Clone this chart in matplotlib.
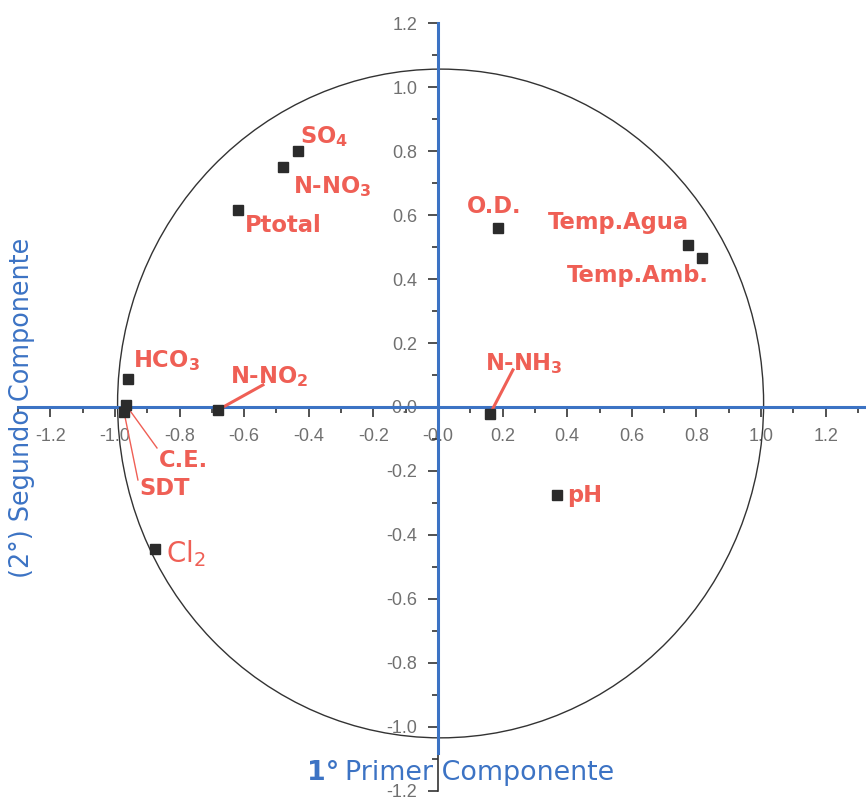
import numpy as np
import matplotlib.pyplot as plt
from matplotlib.patches import Ellipse
from matplotlib.ticker import MultipleLocator, FormatStrFormatter

plt.rcParams['axes.unicode_minus'] = False
plt.rcParams['mathtext.fontset'] = 'custom'
plt.rcParams['mathtext.rm'] = 'DejaVu Sans'
plt.rcParams['mathtext.bf'] = 'DejaVu Sans:bold'

# cargas de cada variable en los dos primeros componentes
variables = ['SO$_\\mathbf{4}$', 'N-NO$_\\mathbf{3}$', 'Ptotal', 'HCO$_\\mathbf{3}$',
             'C.E.', 'SDT', 'N-NO$_\\mathbf{2}$', 'Cl$_2$', 'O.D.',
             'Temp.Agua', 'Temp.Amb.', 'N-NH$_\\mathbf{3}$', 'pH']
comp1 = [-0.433, -0.48, -0.619, -0.96, -0.966, -0.972, -0.681, -0.876,
         0.186, 0.774, 0.817, 0.161, 0.368]
comp2 = [0.80, 0.75, 0.616, 0.0875, 0.006, -0.016, -0.009, -0.444,
         0.559, 0.506, 0.466, -0.022, -0.275]

# donde va cada etiqueta (esquina izquierda, linea base)
lab_x = [-0.427, -0.449, -0.598, -0.944, -0.864, -0.923, -0.644, -0.842,
         0.09, 0.34, 0.40, 0.146, 0.40]
lab_y = [0.825, 0.669, 0.547, 0.125, -0.1875, -0.275, 0.075, -0.484,
         0.606, 0.556, 0.39, 0.116, -0.297]

# lineas guia: indice de la variable -> punto final
guias = {6: (-0.542, 0.069), 11: (0.232, 0.116),
         4: (-0.87, -0.128), 5: (-0.929, -0.228)}

rojo = '#ef5f55'
azul = '#3c73c4'

fig = plt.figure(figsize=(8.66, 7.98), dpi=100)
ax = fig.add_axes([0, 0, 1, 1])
ax.set_xlim(-1.356, 1.325)
ax.set_ylim(-1.222, 1.272)

ax.spines['top'].set_visible(False)
ax.spines['right'].set_visible(False)
ax.spines['left'].set_position(('data', 0))
ax.spines['bottom'].set_position(('data', 0))
ax.spines['left'].set_bounds(-1.2, 1.2)
ax.spines['bottom'].set_bounds(-1.2, 1.2)
for s in ['left', 'bottom']:
    ax.spines[s].set_color('#333333')
    ax.spines[s].set_linewidth(1.2)

ax.set_xticks(np.arange(-1.2, 1.21, 0.2))
ax.set_yticks(np.arange(-1.2, 1.21, 0.2))
ax.xaxis.set_minor_locator(MultipleLocator(0.1))
ax.yaxis.set_minor_locator(MultipleLocator(0.1))
ax.xaxis.set_major_formatter(FormatStrFormatter('%.1f'))
ax.yaxis.set_major_formatter(FormatStrFormatter('%.1f'))
ax.tick_params(which='major', direction='out', length=7, width=1.2,
               color='#333333', labelsize=13, labelcolor='#707070', pad=8)
ax.tick_params(which='minor', direction='out', length=4, width=1.2, color='#333333')
for t in ax.get_xticklabels() + ax.get_yticklabels():
    t.set_family('Liberation Sans')

# ejes azules
ax.plot([-1.3, 1.33], [0, 0], color=azul, lw=2.2, zorder=3, clip_on=False)
ax.plot([0, 0], [-1.08, 1.2], color=azul, lw=2.2, zorder=3)

# circulo de correlacion
ax.add_patch(Ellipse((0.008, 0.011), 2.0, 2.09, fill=False,
                     edgecolor='#333333', lw=1.0, zorder=2))

for i, (xg, yg) in guias.items():
    grosor = 2.2 if i in (6, 11) else 1.0
    ax.plot([comp1[i], xg], [comp2[i], yg], color=rojo, lw=grosor, zorder=4)

ax.plot(comp1, comp2, 's', color='#2b2b2b', markersize=7, zorder=5)

for i, nombre in enumerate(variables):
    if nombre.startswith('Cl'):
        ax.text(lab_x[i], lab_y[i], nombre, color=rojo, fontsize=20,
                ha='left', va='baseline', zorder=6)
    else:
        ax.text(lab_x[i], lab_y[i], nombre, color=rojo, fontsize=16.3,
                fontweight='bold', ha='left', va='baseline', zorder=6)

fig.text(307 / 866, 1 - 780 / 798, '1°', color=azul, fontsize=19.4,
         fontweight='bold', ha='left', va='baseline')
fig.text(345 / 866, 1 - 780 / 798, 'Primer Componente', color=azul,
         fontsize=19.4, ha='left', va='baseline')
fig.text(22 / 866, 1 - 408 / 798, '(2°) Segundo Componente', color=azul,
         fontsize=18.4, rotation=90, ha='center', va='center')

fig.savefig('out.png', dpi=100)
